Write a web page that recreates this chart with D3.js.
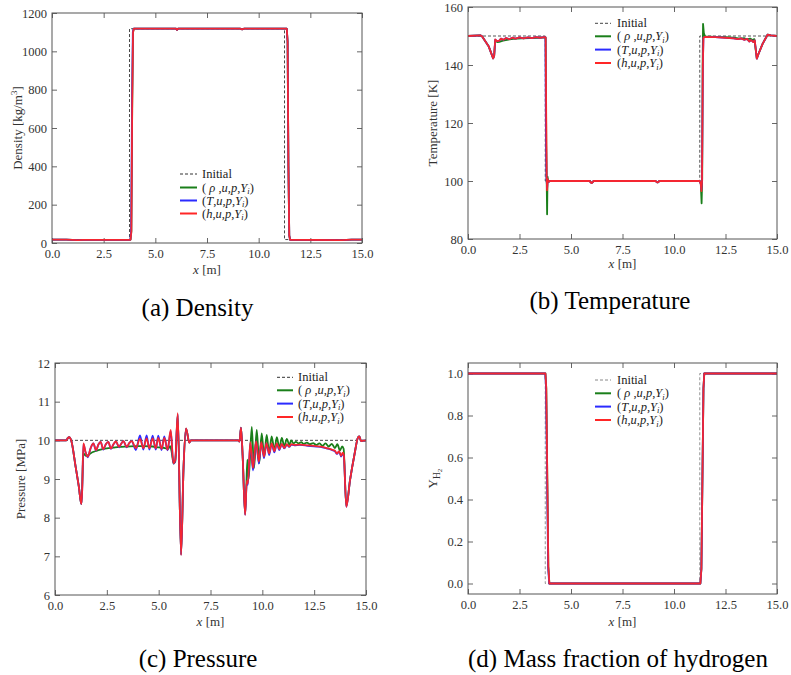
<!DOCTYPE html>
<html><head><meta charset="utf-8">
<script src="https://cdn.jsdelivr.net/npm/d3@7"></script>
<style>
body{margin:0;background:#fff}
svg{display:block}
svg text{font-family:"Liberation Serif","Times New Roman",serif}
</style>
</head><body>
<svg id="chart" width="791" height="675" font-family="Liberation Serif, Times New Roman, serif"></svg>
<script>
// ---------- tick labels ----------
const xTicks = [0, 2.5, 5, 7.5, 10, 12.5, 15];
const densityTicks = [0, 200, 400, 600, 800, 1000, 1200];
const temperatureTicks = [80, 100, 120, 140, 160];
const pressureTicks = [6, 7, 8, 9, 10, 11, 12];
const yh2Ticks = [0, 0.2, 0.4, 0.6, 0.8, 1.0];
const seriesKeys = ["initial", "rho", "T", "h"];
const captions = ["(a) Density", "(b) Temperature", "(c) Pressure", "(d) Mass fraction of hydrogen"];

// ---------- (a) density ----------
const densityInitial = [[0,18],[3.75,18],[3.75,1118],[11.25,1118],[11.25,18],[15,18]];
const densityRho = [[0,18],[0.7,18],[1.25,15],[1.5,16],[3.8,17],[3.84,60],[3.88,700],[3.92,1100],[3.96,1118],[6.0,1118],[6.05,1112],[6.1,1118],[9.1,1118],[9.2,1115],[9.3,1118],[11.36,1118],[11.4,1050],[11.44,400],[11.48,40],[11.52,17],[14.0,15],[14.5,18],[15,18]];
const densityT = [[0,18],[0.7,18],[1.25,15],[1.5,16],[3.79,17],[3.83,60],[3.87,700],[3.91,1100],[3.95,1118],[6.0,1118],[6.05,1112],[6.1,1118],[9.1,1118],[9.2,1115],[9.3,1118],[11.36,1118],[11.4,1050],[11.44,400],[11.48,40],[11.52,17],[14.0,15],[14.5,18],[15,18]];
const densityH = [[0,18],[0.7,18],[1.25,15],[1.5,16],[3.8,17],[3.84,60],[3.88,700],[3.92,1100],[3.96,1118],[6.0,1118],[6.05,1112],[6.1,1118],[9.1,1118],[9.2,1115],[9.3,1118],[11.36,1118],[11.4,1050],[11.44,400],[11.48,40],[11.52,17],[14.0,15],[14.5,18],[15,18]];

// ---------- (b) temperature ----------
const tempInitial = [[0,150],[3.75,150],[3.75,100],[11.25,100],[11.25,150],[15,150]];
const tempRho = [[0,150],[0.6,150.2],[0.68,149.9],[1.0,146.5],[1.22,142.3],[1.27,143.2],[1.32,148.3],[1.42,147.9],[1.52,148.0],[1.7,148.4],[1.9,148.7],[2.2,149.0],[2.6,149.2],[3.0,149.3],[3.4,149.4],[3.7,149.5],[3.77,149.4],[3.8,112],[3.82,100],[3.84,88.5],[3.86,101.5],[3.9,99.7],[4.0,100],[5.9,100],[6.0,99.3],[6.1,100],[9.1,100],[9.2,99.5],[9.3,100],[11.25,100],[11.3,99],[11.34,92.3],[11.37,101],[11.39,140],[11.41,154.2],[11.45,151],[11.5,149.9],[12.0,149.7],[12.5,149.6],[12.9,149.4],[13.2,149.1],[13.4,149.3],[13.55,148.8],[13.7,149.1],[13.8,148.6],[13.9,148.9],[14.02,142.3],[14.1,143.8],[14.3,147.3],[14.55,150.5],[14.7,150.2],[15,150]];
const tempT = [[0,150],[0.6,150.2],[0.68,149.9],[1.0,146.5],[1.22,142.3],[1.27,143.2],[1.32,148.7],[1.42,148.2],[1.52,148.4],[1.6,149.1],[1.72,148.7],[1.85,149.3],[2.0,148.9],[2.15,149.4],[2.3,149.1],[2.5,149.5],[2.7,149.2],[2.9,149.5],[3.1,149.3],[3.3,149.6],[3.5,149.4],[3.7,149.6],[3.76,149.5],[3.78,120],[3.81,101],[3.84,97.5],[3.87,100.5],[3.92,99.8],[4.0,100],[5.9,100],[6.0,99.3],[6.1,100],[9.1,100],[9.2,99.5],[9.3,100],[11.25,100],[11.3,99],[11.33,97],[11.36,100],[11.4,140],[11.43,149.4],[11.5,149.7],[12.0,149.6],[12.5,149.4],[12.9,149.2],[13.1,148.9],[13.25,149.2],[13.4,148.7],[13.55,149],[13.65,148.1],[13.75,148.6],[13.85,147.9],[13.92,148.5],[14.02,142.2],[14.1,143.8],[14.3,147.3],[14.55,150.5],[14.7,150.2],[15,150]];
const tempH = [[0,150],[0.6,150.2],[0.68,149.9],[1.0,146.5],[1.22,142.3],[1.27,143.2],[1.32,148.8],[1.42,148.2],[1.52,148.4],[1.6,149.1],[1.72,148.7],[1.85,149.3],[2.0,148.9],[2.15,149.4],[2.3,149.1],[2.5,149.5],[2.7,149.2],[2.9,149.5],[3.1,149.3],[3.3,149.6],[3.5,149.4],[3.7,149.6],[3.77,149.5],[3.8,120],[3.82,101],[3.84,96.8],[3.87,100.6],[3.92,99.8],[4.0,100],[5.9,100],[6.0,99.3],[6.1,100],[9.1,100],[9.2,99.5],[9.3,100],[11.25,100],[11.3,99],[11.33,96.5],[11.36,100],[11.4,140],[11.43,149.4],[11.5,149.7],[12.0,149.6],[12.5,149.4],[12.9,149.2],[13.1,148.9],[13.25,149.2],[13.4,148.7],[13.55,149],[13.65,148.1],[13.75,148.6],[13.85,147.9],[13.92,148.5],[14.02,142.2],[14.1,143.8],[14.3,147.3],[14.55,150.5],[14.7,150.2],[15,150]];

// ---------- (c) pressure ----------
const presInitial = [[0,10],[15,10]];
const presRho = [[0,10],[0.55,10],[0.62,10.06],[0.7,10.08],[0.78,10.0],[1.0,9.3],[1.15,8.8],[1.27,8.35],[1.31,8.8],[1.37,9.66],[1.5,9.6],[1.6,9.62],[1.8,9.69],[2.0,9.73],[2.2,9.76],[2.5,9.79],[2.8,9.81],[3.1,9.83],[3.5,9.84],[3.9,9.85],[4.3,9.85],[4.7,9.84],[5.0,9.82],[5.3,9.8],[5.45,9.78],[5.55,9.85],[5.62,9.72],[5.72,9.4],[5.8,9.45],[5.92,10.65],[6.08,7.05],[6.2,9.3],[6.32,10.3],[6.48,9.94],[6.55,10],[8.84,10],[8.9,9.97],[8.97,10.33],[9.05,9.6],[9.17,8.1],[9.23,8.85],[9.28,9.5],[9.34,9.0],[9.49,10.35],[9.6,9.28],[9.73,10.27],[9.85,9.41],[9.97,10.18],[10.09,9.58],[10.21,10.14],[10.33,9.67],[10.45,10.1],[10.58,9.75],[10.7,10.08],[10.82,9.8],[10.94,10.06],[11.06,9.84],[11.18,10.04],[11.3,9.88],[11.39,10.0],[11.5,9.92],[11.62,9.96],[11.75,9.92],[11.88,9.95],[12.0,9.91],[12.15,9.94],[12.3,9.9],[12.45,9.93],[12.6,9.88],[12.75,9.92],[12.9,9.86],[13.05,9.92],[13.2,9.84],[13.35,9.91],[13.5,9.8],[13.62,9.9],[13.74,9.74],[13.85,9.84],[13.92,9.78],[14.05,8.3],[14.23,8.97],[14.44,9.62],[14.62,10.08],[14.68,10.1],[14.76,9.98],[14.85,9.99],[15,10]];
const presT = [[0,10],[0.55,10],[0.62,10.06],[0.7,10.08],[0.78,10.0],[1.0,9.3],[1.15,8.8],[1.27,8.35],[1.31,8.7],[1.37,9.9],[1.47,9.7],[1.58,9.56],[1.72,9.8],[1.85,9.92],[1.98,9.74],[2.1,9.9],[2.2,9.96],[2.33,9.76],[2.45,9.9],[2.57,9.96],[2.7,9.78],[2.82,9.9],[2.94,9.97],[3.09,9.82],[3.2,9.92],[3.3,9.98],[3.46,9.82],[3.58,9.93],[3.7,9.98],[3.9,9.75],[4.1,10.13],[4.26,9.76],[4.42,10.13],[4.55,9.76],[4.71,10.12],[4.86,9.76],[4.98,10.12],[5.14,9.75],[5.27,10.1],[5.43,9.74],[5.58,10.24],[5.71,9.4],[5.8,9.48],[5.92,10.68],[6.08,7.04],[6.2,9.3],[6.32,10.3],[6.48,9.94],[6.55,10],[8.84,10],[8.9,9.97],[8.97,10.33],[9.05,9.6],[9.17,8.07],[9.25,8.92],[9.3,8.85],[9.42,9.93],[9.55,9.22],[9.7,9.97],[9.83,9.4],[9.95,9.94],[10.08,9.54],[10.2,9.92],[10.33,9.62],[10.45,9.91],[10.58,9.69],[10.7,9.91],[10.82,9.75],[10.94,9.9],[11.06,9.79],[11.18,9.89],[11.3,9.83],[11.4,9.89],[11.55,9.87],[11.8,9.88],[12.2,9.86],[12.6,9.84],[12.9,9.82],[13.1,9.79],[13.25,9.77],[13.4,9.74],[13.5,9.72],[13.6,9.65],[13.7,9.71],[13.8,9.58],[13.88,9.66],[13.93,9.6],[14.05,8.28],[14.23,8.97],[14.44,9.62],[14.62,10.08],[14.68,10.1],[14.76,9.98],[14.85,9.99],[15,10]];
const presH = [[0,10],[0.55,10],[0.62,10.06],[0.7,10.08],[0.78,10.0],[1.0,9.3],[1.15,8.8],[1.27,8.35],[1.31,8.7],[1.37,9.92],[1.47,9.7],[1.58,9.58],[1.72,9.8],[1.85,9.92],[1.98,9.75],[2.1,9.9],[2.2,9.96],[2.33,9.77],[2.45,9.9],[2.57,9.96],[2.7,9.79],[2.82,9.9],[2.94,9.97],[3.09,9.83],[3.2,9.92],[3.3,9.98],[3.46,9.83],[3.58,9.93],[3.7,9.98],[3.9,9.8],[4.1,10.04],[4.26,9.8],[4.42,10.05],[4.55,9.8],[4.71,10.05],[4.86,9.79],[4.98,10.06],[5.14,9.78],[5.27,10.06],[5.43,9.76],[5.58,10.27],[5.71,9.41],[5.8,9.5],[5.92,10.7],[6.08,7.03],[6.2,9.3],[6.32,10.31],[6.48,9.94],[6.55,10],[8.84,10],[8.9,9.97],[8.97,10.33],[9.05,9.6],[9.17,8.07],[9.25,8.95],[9.3,8.88],[9.42,9.95],[9.55,9.28],[9.7,9.98],[9.83,9.45],[9.95,9.95],[10.08,9.58],[10.2,9.93],[10.33,9.66],[10.45,9.92],[10.58,9.72],[10.7,9.92],[10.82,9.77],[10.94,9.91],[11.06,9.8],[11.18,9.9],[11.3,9.84],[11.4,9.9],[11.55,9.88],[11.8,9.89],[12.2,9.87],[12.6,9.85],[12.9,9.83],[13.1,9.8],[13.25,9.78],[13.4,9.75],[13.5,9.73],[13.6,9.66],[13.7,9.72],[13.8,9.6],[13.88,9.68],[13.93,9.62],[14.05,8.28],[14.23,8.97],[14.44,9.62],[14.62,10.08],[14.68,10.1],[14.76,9.98],[14.85,9.99],[15,10]];

// ---------- (d) hydrogen mass fraction ----------
const yh2Initial = [[0,1],[3.75,1],[3.75,0],[11.25,0],[11.25,1],[15,1]];
const yh2Rho = [[0,1],[3.76,1],[3.8,0.93],[3.85,0.5],[3.9,0.08],[3.95,0],[11.28,0],[11.33,0.07],[11.38,0.5],[11.43,0.93],[11.47,1],[15,1]];
const yh2T = [[0,1],[3.75,1],[3.79,0.93],[3.84,0.5],[3.89,0.08],[3.94,0],[11.28,0],[11.33,0.07],[11.38,0.5],[11.43,0.93],[11.47,1],[15,1]];
const yh2H = [[0,1],[3.76,1],[3.8,0.93],[3.85,0.5],[3.9,0.08],[3.95,0],[11.28,0],[11.33,0.07],[11.38,0.5],[11.43,0.93],[11.47,1],[15,1]];

// ---------- styling / layout ----------
const colors = {initial:"#333", rho:"#1a7f1a", T:"#2b2bff", h:"#ff2626"};
const fontFam = '"Liberation Serif","Times New Roman",serif';

const panels = [
  {box:{l:52,r:362,t:13,b:243}, yDomain:[0,1200], yTicks:densityTicks, fmt:d3.format("d"),
   data:{initial:densityInitial, rho:densityRho, T:densityT, h:densityH}, curve:d3.curveLinear,
   ylabel:"density", ylabelX:18, legend:{x1:180,x2:197,tx:202,ys:[174,187.5,200.5,213.5]},
   xlabelY:274, cap:{x:197.5,y:316}, initColor:"#333"},
  {box:{l:468,r:777,t:7,b:239}, yDomain:[80,160], yTicks:temperatureTicks, fmt:d3.format("d"),
   data:{initial:tempInitial, rho:tempRho, T:tempT, h:tempH}, curve:d3.curveLinear,
   ylabel:"temperature", ylabelX:433, legend:{x1:595,x2:611,tx:617,ys:[23.3,36.3,49.6,63]},
   xlabelY:268, cap:{x:610,y:309}, initColor:"#444"},
  {box:{l:55,r:366,t:363,b:595}, yDomain:[6,12], yTicks:pressureTicks, fmt:d3.format("d"),
   data:{initial:presInitial, rho:presRho, T:presT, h:presH}, curve:d3.curveMonotoneX,
   ylabel:"pressure", ylabelX:21, legend:{x1:277,x2:293,tx:298,ys:[377.3,390.3,403.6,417]},
   xlabelY:626, cap:{x:198,y:667}, initColor:"#333"},
  {box:{l:468,r:777,t:363,b:594}, yDomain:[-0.05,1.05], yTicks:yh2Ticks, fmt:d3.format(".1f"),
   data:{initial:yh2Initial, rho:yh2Rho, T:yh2T, h:yh2H}, curve:d3.curveLinear,
   ylabel:"yh2", ylabelX:433, legend:{x1:595,x2:611,tx:617,ys:[380,393.3,406.6,420]},
   xlabelY:626, cap:{x:618,y:667}, initColor:"#888"}
];

const svg = d3.select("#chart");

function serif(sel, size){
  return sel.attr("font-family", fontFam).style("font-family", fontFam).style("font-size", size);
}

function legendText(sel, v){
  sel.append("tspan").text("(");
  if(v==="rho"){
    sel.append("tspan").text(" ");
    sel.append("tspan").attr("font-style","italic").text("ρ");
    sel.append("tspan").text(" ,");
  } else {
    sel.append("tspan").attr("font-style","italic").text(v);
    sel.append("tspan").text(",");
  }
  sel.append("tspan").attr("font-style","italic").text("u");
  sel.append("tspan").text(",");
  sel.append("tspan").attr("font-style","italic").text("p");
  sel.append("tspan").text(",");
  sel.append("tspan").attr("font-style","italic").text("Y");
  sel.append("tspan").attr("font-style","italic").attr("font-size","8.5px").attr("dy",2.5).text("i");
  sel.append("tspan").attr("dy",-2.5).text(")");
}

panels.forEach((p,i)=>{
  const {l,r,t,b} = p.box;
  const x = d3.scaleLinear().domain([0,15]).range([l,r]);
  const y = d3.scaleLinear().domain(p.yDomain).range([b,t]);
  const g = svg.append("g");

  const clipId = "clip"+i;
  svg.append("clipPath").attr("id",clipId).append("rect")
    .attr("x",l).attr("y",t).attr("width",r-l).attr("height",b-t);

  // axes
  const styleAxis = (ag)=>{
    ag.attr("font-family", fontFam);
    ag.select(".domain").remove();
    ag.selectAll(".tick line").attr("stroke","#555").attr("stroke-width",0.9);
    ag.selectAll(".tick text").attr("fill","#333").call(serif,"12.5px");
  };
  g.append("g").attr("transform",`translate(0,${b})`)
    .call(d3.axisBottom(x).tickValues(xTicks).tickFormat(d3.format(".1f")).tickSizeInner(-5).tickSizeOuter(0).tickPadding(6))
    .call(styleAxis);
  g.append("g").attr("transform",`translate(0,${t})`)
    .call(d3.axisTop(x).tickValues(xTicks).tickFormat("").tickSizeInner(-5).tickSizeOuter(0))
    .call(styleAxis);
  g.append("g").attr("transform",`translate(${l},0)`)
    .call(d3.axisLeft(y).tickValues(p.yTicks).tickFormat(p.fmt).tickSizeInner(-5).tickSizeOuter(0).tickPadding(5))
    .call(styleAxis);
  g.append("g").attr("transform",`translate(${r},0)`)
    .call(d3.axisRight(y).tickValues(p.yTicks).tickFormat("").tickSizeInner(-5).tickSizeOuter(0))
    .call(styleAxis);

  // lines
  const lineLin = d3.line().x(d=>x(d[0])).y(d=>y(d[1]));
  const lineCurve = d3.line().x(d=>x(d[0])).y(d=>y(d[1])).curve(p.curve);
  const lg = g.append("g").attr("clip-path",`url(#${clipId})`);
  lg.append("path").datum(p.data.initial).attr("d",lineLin)
    .attr("fill","none").attr("stroke",p.initColor).attr("stroke-width",0.9).attr("stroke-dasharray","3,2");
  ["rho","T","h"].forEach(k=>{
    lg.append("path").datum(p.data[k]).attr("d",lineCurve)
      .attr("fill","none").attr("stroke",colors[k]).attr("stroke-width",1.8)
      .attr("stroke-linejoin","round").attr("opacity",k==="h"?0.95:1);
  });

  // frame
  g.append("rect").attr("x",l).attr("y",t).attr("width",r-l).attr("height",b-t)
    .attr("fill","none").attr("stroke","#555").attr("stroke-width",1);

  // legend
  const L = p.legend;
  seriesKeys.forEach((k,j)=>{
    const yy = L.ys[j];
    g.append("line").attr("x1",L.x1).attr("x2",L.x2).attr("y1",yy).attr("y2",yy)
      .attr("stroke", k==="initial"?p.initColor:colors[k])
      .attr("stroke-width", k==="initial"?1:2)
      .attr("stroke-dasharray", k==="initial"?"3,2":null);
    const tx = g.append("text").attr("x",L.tx).attr("y",yy+4)
      .attr("fill","#222").call(serif,"12.5px");
    if(k==="initial") tx.text("Initial"); else legendText(tx,k);
  });

  // x label
  const xl = g.append("text").attr("x",(l+r)/2).attr("y",p.xlabelY).attr("text-anchor","middle")
    .attr("fill","#333").call(serif,"13px");
  xl.append("tspan").attr("font-style","italic").text("x");
  xl.append("tspan").text(" [m]");

  // y label
  const cy = (t+b)/2;
  const yl = g.append("text").attr("transform",`translate(${p.ylabelX+4},${cy}) rotate(-90)`)
    .attr("text-anchor","middle").attr("fill","#333").call(serif,"13px");
  if(p.ylabel==="density"){
    yl.append("tspan").text("Density [kg/m");
    yl.append("tspan").attr("font-size","9px").attr("dy",-5).text("3");
    yl.append("tspan").attr("dy",5).text("]");
  } else if(p.ylabel==="temperature"){
    yl.text("Temperature [K]");
  } else if(p.ylabel==="pressure"){
    yl.text("Pressure [MPa]");
  } else {
    yl.append("tspan").text("Y");
    yl.append("tspan").attr("font-size","9.5px").attr("dy",3).text("H");
    yl.append("tspan").attr("font-size","7px").attr("dy",2).text("2");
  }

  // caption
  svg.append("text").attr("x",p.cap.x).attr("y",p.cap.y).attr("text-anchor","middle")
    .attr("fill","#000").call(serif,"25px").text(captions[i]);
});
</script>
</body></html>
